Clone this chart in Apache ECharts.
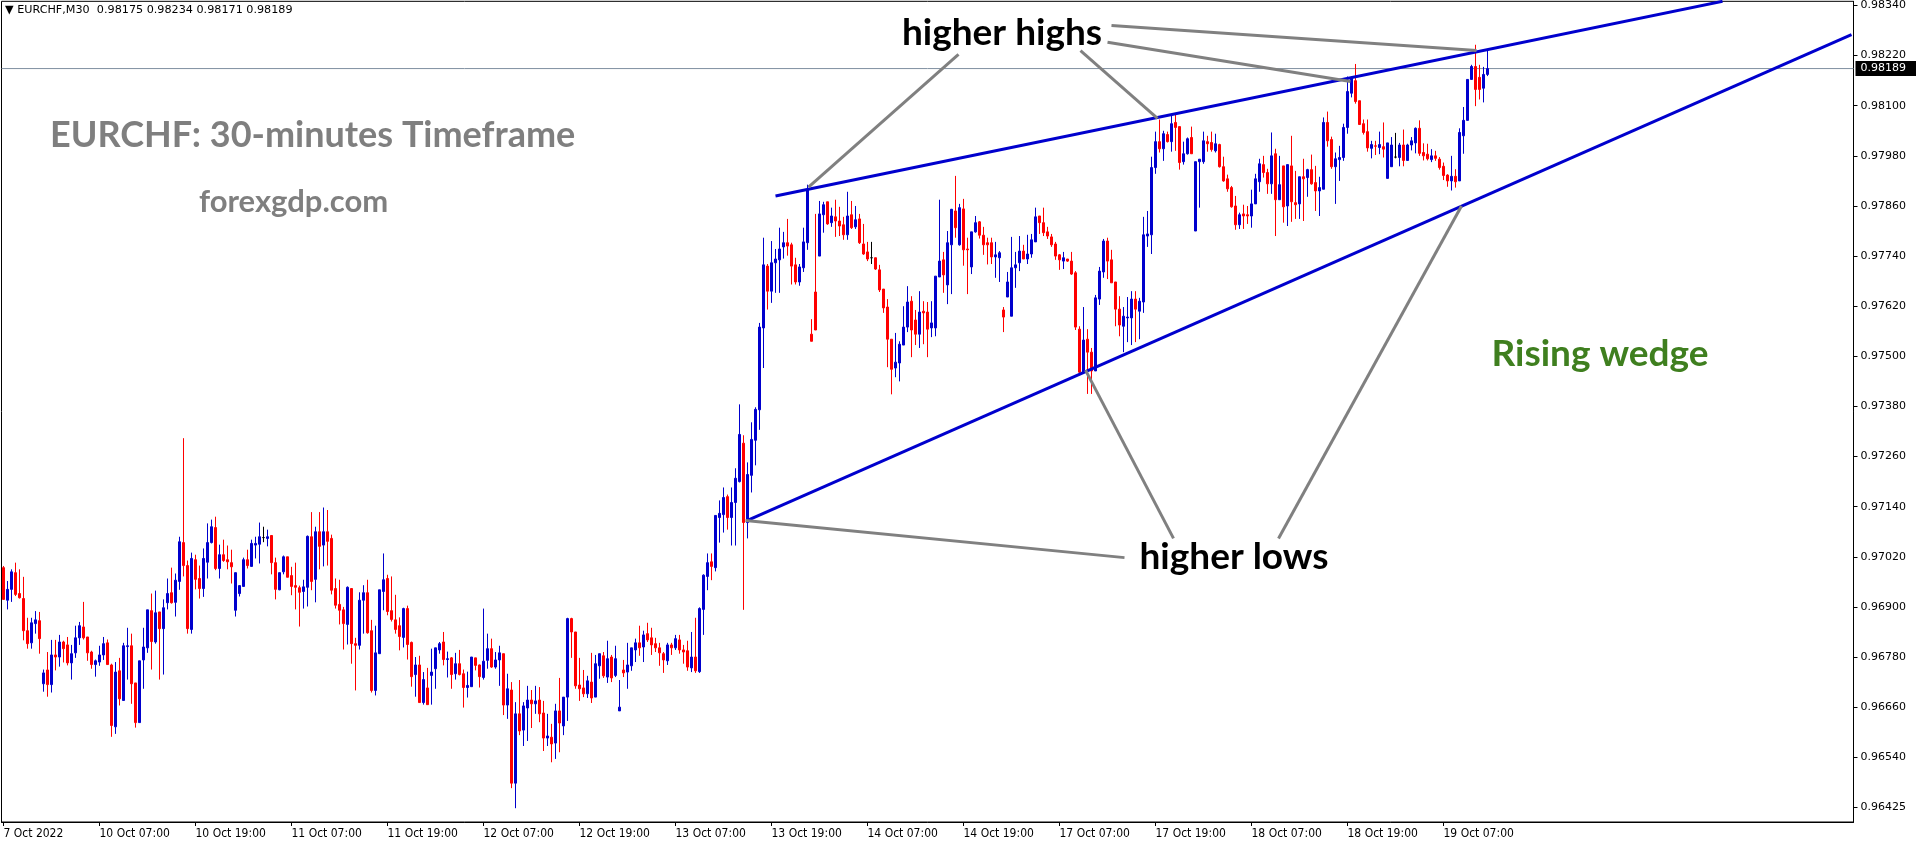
<!DOCTYPE html>
<html><head><meta charset="utf-8">
<script src="https://cdn.jsdelivr.net/npm/echarts@6/dist/echarts.min.js"></script>
<style>html,body{margin:0;padding:0;background:#fff;overflow:hidden}#c{width:1916px;height:850px}</style>
</head><body><div id="c"></div>
<script>
// ---- Data (EURCHF M30, 7 Oct 2022 19:00 -> 19 Oct 2022 12:30) ----
const opens = [
0.96994,0.96916,0.96942,0.96982,0.96932,0.96920,0.96843,0.96814,0.96860,0.96867,
0.96716,0.96749,0.96714,0.96785,0.96780,0.96816,0.96809,0.96766,0.96790,0.96826,
0.96852,0.96828,0.96792,0.96762,0.96768,0.96785,0.96814,0.96761,0.96613,0.96747,
0.96676,0.96805,0.96807,0.96718,0.96623,0.96773,0.96802,0.96891,0.96816,0.96888,
0.96848,0.96910,0.96934,0.96911,0.96961,0.97054,0.96999,0.96846,0.97013,0.96968,
0.96944,0.97007,0.97054,0.97090,0.96992,0.97025,0.97013,0.97006,0.96892,0.96932,
0.96949,0.97013,0.96997,0.97048,0.97050,0.97066,0.97064,0.97071,0.97006,0.96941,
0.96984,0.97020,0.96975,0.96951,0.96946,0.96937,0.96947,0.97068,0.96966,0.97080,
0.97048,0.97080,0.97064,0.96944,0.96906,0.96893,0.96858,0.96944,0.96812,0.96808,
0.96916,0.96934,0.96843,0.96700,0.96788,0.96937,0.96968,0.96891,0.96869,0.96855,
0.96827,0.96896,0.96815,0.96738,0.96761,0.96671,0.96706,0.96736,0.96752,0.96797,
0.96816,0.96774,0.96778,0.96740,0.96764,0.96740,0.96707,0.96709,0.96778,0.96761,
0.96731,0.96772,0.96800,0.96756,0.96773,0.96788,0.96665,0.96701,0.96478,0.96644,
0.96605,0.96658,0.96677,0.96668,0.96677,0.96646,0.96586,0.96588,0.96574,0.96651,
0.96615,0.96684,0.96872,0.96840,0.96713,0.96706,0.96692,0.96720,0.96684,0.96759,
0.96783,0.96732,0.96780,0.96736,0.96651,0.96749,0.96744,0.96759,0.96797,0.96814,
0.96804,0.96836,0.96826,0.96812,0.96802,0.96788,0.96771,0.96809,0.96802,0.96821,
0.96797,0.96795,0.96754,0.96780,0.96745,0.96894,0.96973,0.97008,0.96994,0.97114,
0.97121,0.97164,0.97114,0.97150,0.97200,0.97292,0.97102,0.97215,0.97299,0.97372,
0.97568,0.97716,0.97656,0.97724,0.97731,0.97762,0.97772,0.97767,0.97719,0.97678,
0.97712,0.97772,0.97553,0.97654,0.97740,0.97839,0.97870,0.97820,0.97834,0.97824,
0.97815,0.97791,0.97839,0.97810,0.97829,0.97769,0.97750,0.97736,0.97736,0.97707,
0.97661,0.97618,0.97541,0.97472,0.97484,0.97527,0.97570,0.97632,0.97587,0.97553,
0.97608,0.97606,0.97568,0.97568,0.97690,0.97731,0.97671,0.97767,0.97848,0.97767,
0.97853,0.97757,0.97714,0.97798,0.97822,0.97790,0.97772,0.97772,0.97738,0.97736,
0.97611,0.97642,0.97596,0.97712,0.97724,0.97752,0.97733,0.97745,0.97774,0.97836,
0.97820,0.97798,0.97786,0.97769,0.97743,0.97728,0.97733,0.97728,0.97700,0.97565,
0.97462,0.97541,0.97510,0.97465,0.97637,0.97702,0.97776,0.97731,0.97678,0.97613,
0.97572,0.97592,0.97592,0.97637,0.97608,0.97630,0.97788,0.97791,0.97952,0.98014,
0.97997,0.98031,0.98014,0.98060,0.98050,0.97966,0.97985,0.98024,0.97800,0.97966,
0.97966,0.98014,0.98012,0.97992,0.98007,0.97954,0.97925,0.97904,0.97860,0.97815,
0.97841,0.97839,0.97836,0.97865,0.97918,0.97959,0.97940,0.97913,0.97985,0.97875,
0.97956,0.97860,0.97956,0.97868,0.97865,0.97930,0.97928,0.97947,0.97916,0.97896,
0.97900,0.98060,0.98019,0.97954,0.97971,0.97976,0.98048,0.98130,0.98160,0.98112,
0.98057,0.98038,0.97998,0.98004,0.98000,0.98002,0.97926,0.97954,0.97977,0.97976,
0.98006,0.97969,0.98006,0.98011,0.98046,0.97988,0.97984,0.97971,0.97980,0.97972,
0.97955,0.97934,0.97920,0.97931,0.97920,0.98028,0.98065,0.98163,0.98194,0.98168,
0.98142,0.98175];
const closes = [
0.96918,0.96942,0.96984,0.96930,0.96922,0.96843,0.96812,0.96862,0.96869,0.96824,
0.96742,0.96714,0.96785,0.96780,0.96816,0.96800,0.96766,0.96788,0.96826,0.96855,
0.96826,0.96790,0.96762,0.96771,0.96785,0.96812,0.96762,0.96616,0.96744,0.96680,
0.96807,0.96807,0.96716,0.96623,0.96771,0.96804,0.96893,0.96817,0.96886,0.96848,
0.96898,0.96932,0.96910,0.96964,0.97056,0.96999,0.96848,0.97016,0.96966,0.96944,
0.97016,0.97054,0.97092,0.96992,0.97025,0.97011,0.97008,0.96996,0.96982,0.96951,
0.97013,0.96999,0.97052,0.97052,0.97068,0.97066,0.97068,0.97006,0.96942,0.96982,
0.97020,0.96971,0.96949,0.96947,0.96935,0.96948,0.97069,0.96961,0.97080,0.97045,
0.97080,0.97057,0.96940,0.96904,0.96892,0.96860,0.96947,0.96812,0.96808,0.96916,
0.96934,0.96838,0.96700,0.96790,0.96941,0.96965,0.96889,0.96870,0.96846,0.96829,
0.96896,0.96810,0.96733,0.96761,0.96671,0.96726,0.96666,0.96744,0.96802,0.96812,
0.96774,0.96776,0.96738,0.96764,0.96738,0.96707,0.96712,0.96780,0.96760,0.96733,
0.96770,0.96800,0.96756,0.96773,0.96790,0.96665,0.96704,0.96478,0.96644,0.96603,
0.96663,0.96677,0.96668,0.96675,0.96644,0.96586,0.96591,0.96572,0.96651,0.96622,
0.96684,0.96872,0.96840,0.96711,0.96704,0.96692,0.96723,0.96682,0.96764,0.96788,
0.96735,0.96776,0.96730,0.96776,0.96660,0.96742,0.96761,0.96802,0.96814,0.96802,
0.96833,0.96821,0.96809,0.96802,0.96790,0.96773,0.96809,0.96802,0.96824,0.96797,
0.96792,0.96756,0.96780,0.96747,0.96896,0.96976,0.97006,0.96997,0.97119,0.97124,
0.97162,0.97114,0.97150,0.97208,0.97313,0.97102,0.97217,0.97301,0.97373,0.97570,
0.97719,0.97656,0.97724,0.97733,0.97757,0.97772,0.97764,0.97716,0.97678,0.97714,
0.97774,0.97899,0.97536,0.97563,0.97841,0.97863,0.97817,0.97836,0.97824,0.97812,
0.97791,0.97836,0.97808,0.97827,0.97772,0.97745,0.97733,0.97736,0.97709,0.97659,
0.97616,0.97541,0.97469,0.97486,0.97529,0.97570,0.97630,0.97563,0.97553,0.97606,
0.97604,0.97565,0.97580,0.97692,0.97728,0.97695,0.97772,0.97852,0.97808,0.97856,
0.97755,0.97755,0.97798,0.97820,0.97790,0.97767,0.97767,0.97738,0.97743,0.97748,
0.97594,0.97678,0.97712,0.97719,0.97752,0.97733,0.97745,0.97779,0.97834,0.97820,
0.97796,0.97788,0.97767,0.97740,0.97731,0.97736,0.97728,0.97697,0.97570,0.97462,
0.97539,0.97510,0.97465,0.97640,0.97704,0.97776,0.97728,0.97676,0.97613,0.97575,
0.97596,0.97594,0.97637,0.97613,0.97632,0.97791,0.97793,0.97952,0.98014,0.97997,
0.98033,0.98014,0.98057,0.98048,0.97964,0.97985,0.98021,0.97985,0.97966,0.97972,
0.98016,0.98009,0.97995,0.98009,0.97954,0.97920,0.97901,0.97858,0.97815,0.97839,
0.97836,0.97836,0.97865,0.97925,0.97961,0.97940,0.97913,0.97980,0.97875,0.97911,
0.97858,0.97959,0.97870,0.97863,0.97930,0.97925,0.97947,0.97913,0.97896,0.97904,
0.98060,0.98016,0.97954,0.97973,0.97976,0.98048,0.98134,0.98166,0.98110,0.98055,
0.98036,0.97999,0.98007,0.98003,0.98007,0.97996,0.98011,0.98006,0.97977,0.98006,
0.97969,0.98006,0.98016,0.98046,0.97986,0.97980,0.97973,0.97980,0.97974,0.97952,
0.97933,0.97920,0.97931,0.97918,0.98036,0.98065,0.98163,0.98194,0.98139,0.98139,
0.98175,0.98189];
const lows = [
0.96918,0.96894,0.96912,0.96926,0.96920,0.96820,0.96800,0.96800,0.96836,0.96788,
0.96697,0.96685,0.96695,0.96748,0.96757,0.96767,0.96760,0.96726,0.96778,0.96809,
0.96822,0.96771,0.96752,0.96733,0.96759,0.96773,0.96762,0.96589,0.96596,0.96664,
0.96676,0.96726,0.96668,0.96611,0.96623,0.96704,0.96790,0.96750,0.96812,0.96726,
0.96738,0.96894,0.96908,0.96877,0.96941,0.96973,0.96836,0.96836,0.96942,0.96920,
0.96924,0.96968,0.97052,0.96988,0.96968,0.97008,0.96990,0.96956,0.96877,0.96925,
0.96949,0.96992,0.96997,0.97016,0.97004,0.97055,0.97045,0.96978,0.96918,0.96940,
0.96978,0.96971,0.96928,0.96894,0.96853,0.96896,0.96901,0.96940,0.96911,0.96990,
0.96997,0.96999,0.96930,0.96896,0.96858,0.96798,0.96810,0.96764,0.96700,0.96798,
0.96836,0.96836,0.96695,0.96688,0.96788,0.96892,0.96880,0.96865,0.96836,0.96796,
0.96803,0.96774,0.96709,0.96685,0.96671,0.96666,0.96666,0.96666,0.96704,0.96788,
0.96760,0.96731,0.96704,0.96726,0.96736,0.96659,0.96683,0.96709,0.96748,0.96707,
0.96726,0.96752,0.96754,0.96752,0.96711,0.96641,0.96632,0.96466,0.96418,0.96593,
0.96567,0.96579,0.96610,0.96644,0.96624,0.96555,0.96567,0.96528,0.96536,0.96552,
0.96593,0.96627,0.96778,0.96704,0.96675,0.96684,0.96682,0.96670,0.96684,0.96728,
0.96730,0.96718,0.96720,0.96732,0.96651,0.96732,0.96704,0.96747,0.96768,0.96783,
0.96768,0.96816,0.96785,0.96792,0.96759,0.96742,0.96761,0.96785,0.96797,0.96788,
0.96764,0.96747,0.96744,0.96742,0.96742,0.96833,0.96940,0.96964,0.96985,0.97054,
0.97078,0.97085,0.97047,0.97047,0.97198,0.96893,0.97064,0.97174,0.97239,0.97324,
0.97472,0.97612,0.97628,0.97652,0.97652,0.97734,0.97741,0.97672,0.97672,0.97669,
0.97702,0.97755,0.97536,0.97563,0.97740,0.97796,0.97815,0.97810,0.97786,0.97788,
0.97779,0.97779,0.97805,0.97805,0.97769,0.97743,0.97728,0.97721,0.97707,0.97654,
0.97604,0.97474,0.97409,0.97450,0.97440,0.97527,0.97558,0.97498,0.97527,0.97520,
0.97529,0.97498,0.97546,0.97548,0.97690,0.97652,0.97625,0.97649,0.97784,0.97765,
0.97717,0.97649,0.97697,0.97796,0.97782,0.97743,0.97720,0.97721,0.97688,0.97678,
0.97558,0.97642,0.97596,0.97664,0.97704,0.97733,0.97721,0.97736,0.97774,0.97793,
0.97788,0.97781,0.97762,0.97731,0.97707,0.97709,0.97726,0.97695,0.97563,0.97457,
0.97462,0.97410,0.97410,0.97465,0.97623,0.97688,0.97685,0.97676,0.97572,0.97548,
0.97510,0.97534,0.97527,0.97534,0.97541,0.97604,0.97762,0.97745,0.97937,0.97988,
0.97968,0.98012,0.97990,0.97992,0.97947,0.97959,0.97983,0.97985,0.97800,0.97856,
0.97961,0.97990,0.97990,0.97988,0.97952,0.97918,0.97894,0.97856,0.97803,0.97805,
0.97805,0.97817,0.97808,0.97865,0.97894,0.97928,0.97889,0.97889,0.97788,0.97875,
0.97820,0.97812,0.97822,0.97829,0.97829,0.97824,0.97882,0.97911,0.97848,0.97836,
0.97900,0.98002,0.97949,0.97865,0.97920,0.97968,0.98033,0.98120,0.98105,0.98055,
0.98031,0.97990,0.97974,0.97982,0.97984,0.97976,0.97926,0.97954,0.97974,0.97955,
0.97955,0.97969,0.97993,0.97986,0.97980,0.97969,0.97969,0.97965,0.97968,0.97947,
0.97922,0.97906,0.97897,0.97904,0.97920,0.97985,0.98065,0.98163,0.98099,0.98115,
0.98108,0.98171];
const highs = [
0.96998,0.96962,0.96990,0.97006,0.96990,0.96972,0.96874,0.96874,0.96890,0.96888,
0.96750,0.96792,0.96821,0.96821,0.96833,0.96819,0.96828,0.96809,0.96855,0.96864,
0.96912,0.96828,0.96795,0.96774,0.96807,0.96828,0.96822,0.96764,0.96768,0.96778,
0.96814,0.96850,0.96836,0.96718,0.96771,0.96850,0.96893,0.96932,0.96939,0.96888,
0.96918,0.96968,0.96994,0.96980,0.97068,0.97304,0.97011,0.97030,0.97025,0.96999,
0.97040,0.97100,0.97109,0.97116,0.97049,0.97061,0.97047,0.97037,0.96982,0.96951,
0.97018,0.97037,0.97061,0.97068,0.97102,0.97092,0.97085,0.97071,0.97018,0.96982,
0.97023,0.97020,0.96996,0.97006,0.96951,0.96965,0.97071,0.97127,0.97092,0.97127,
0.97138,0.97132,0.97073,0.96968,0.96965,0.96900,0.96949,0.96944,0.96826,0.96935,
0.96952,0.96965,0.96869,0.96855,0.96941,0.97028,0.96977,0.96973,0.96929,0.96875,
0.96898,0.96903,0.96817,0.96780,0.96783,0.96744,0.96754,0.96800,0.96802,0.96816,
0.96840,0.96793,0.96780,0.96790,0.96797,0.96750,0.96745,0.96780,0.96778,0.96762,
0.96896,0.96836,0.96824,0.96792,0.96807,0.96788,0.96740,0.96720,0.96672,0.96725,
0.96672,0.96711,0.96701,0.96711,0.96708,0.96675,0.96644,0.96620,0.96668,0.96730,
0.96684,0.96874,0.96874,0.96840,0.96778,0.96749,0.96735,0.96790,0.96785,0.96788,
0.96792,0.96819,0.96785,0.96807,0.96725,0.96773,0.96814,0.96802,0.96824,0.96855,
0.96843,0.96862,0.96850,0.96826,0.96814,0.96792,0.96814,0.96814,0.96833,0.96833,
0.96809,0.96819,0.96840,0.96874,0.96899,0.96978,0.97028,0.97028,0.97119,0.97155,
0.97186,0.97169,0.97186,0.97232,0.97385,0.97311,0.97246,0.97342,0.97378,0.97580,
0.97784,0.97721,0.97776,0.97757,0.97808,0.97798,0.97829,0.97772,0.97736,0.97721,
0.97808,0.97911,0.97589,0.97841,0.97872,0.97870,0.97870,0.97856,0.97875,0.97858,
0.97834,0.97894,0.97872,0.97860,0.97841,0.97817,0.97774,0.97774,0.97736,0.97719,
0.97661,0.97637,0.97541,0.97556,0.97536,0.97620,0.97668,0.97644,0.97611,0.97656,
0.97632,0.97630,0.97632,0.97692,0.97875,0.97750,0.97800,0.97853,0.97932,0.97865,
0.97877,0.97784,0.97798,0.97836,0.97824,0.97810,0.97784,0.97784,0.97774,0.97752,
0.97618,0.97702,0.97786,0.97750,0.97788,0.97767,0.97791,0.97793,0.97856,0.97836,
0.97856,0.97810,0.97793,0.97774,0.97745,0.97750,0.97733,0.97750,0.97704,0.97572,
0.97618,0.97565,0.97520,0.97647,0.97714,0.97781,0.97784,0.97755,0.97678,0.97644,
0.97618,0.97642,0.97656,0.97656,0.97640,0.97834,0.97848,0.97978,0.98038,0.98067,
0.98040,0.98038,0.98079,0.98081,0.98050,0.98014,0.98024,0.98050,0.97966,0.97972,
0.98038,0.98028,0.98038,0.98033,0.98009,0.97978,0.97935,0.97908,0.97884,0.97844,
0.97863,0.97860,0.97899,0.97937,0.97973,0.97980,0.97949,0.98036,0.97997,0.97980,
0.97956,0.97959,0.98028,0.97944,0.97930,0.97973,0.97949,0.97983,0.97956,0.97930,
0.98072,0.98086,0.98026,0.97988,0.98004,0.98057,0.98170,0.98170,0.98200,0.98112,
0.98067,0.98067,0.98016,0.98016,0.98038,0.98060,0.98011,0.98025,0.98035,0.98011,
0.98043,0.98009,0.98025,0.98048,0.98065,0.98010,0.98009,0.97996,0.97992,0.97977,
0.97964,0.97936,0.97980,0.97948,0.98046,0.98097,0.98163,0.98198,0.98246,0.98198,
0.98193,0.98234];

const xTickLabels = ['7 Oct 2022','10 Oct 07:00','10 Oct 19:00','11 Oct 07:00','11 Oct 19:00',
  '12 Oct 07:00','12 Oct 19:00','13 Oct 07:00','13 Oct 19:00','14 Oct 07:00','14 Oct 19:00',
  '17 Oct 07:00','17 Oct 19:00','18 Oct 07:00','18 Oct 19:00','19 Oct 07:00'];
const yTickLabels = ['0.98340','0.98220','0.98100','0.97980','0.97860','0.97740','0.97620',
  '0.97500','0.97380','0.97260','0.97140','0.97020','0.96900','0.96780','0.96660','0.96540','0.96425'];
const lastPrice = 0.98189;
const headerText = '\u25BC EURCHF,M30  0.98175 0.98234 0.98171 0.98189';

// trend lines: [bar index, price]
const upperWedge = [[193, 0.97884], [429.75, 0.98350]];
const lowerWedge = [[186, 0.97107], [462, 0.98270]];
const highPointers = [
  [[238.75, 0.98223], [201.25, 0.97905]],
  [[269.25, 0.98232], [288.5, 0.98070]],
  [[276, 0.98252], [336.75, 0.98158]],
  [[277, 0.98292], [368.25, 0.98232]]
];
const lowPointers = [
  [[280.25, 0.97018], [185.5, 0.97107]],
  [[292.5, 0.97064], [270.5, 0.97467]],
  [[318.75, 0.97064], [364.5, 0.97860]]
];

// ---- build ----
const SLOTS = 463, TICK_EVERY = 24;
const MONTHS = ['Jan','Feb','Mar','Apr','May','Jun','Jul','Aug','Sep','Oct','Nov','Dec'];
const pad = n => (n < 10 ? '0' : '') + n;
const categories = [];
for (let t = Date.UTC(2022, 9, 7, 19, 0); categories.length < SLOTS; t += 1800000) {
  const d = new Date(t), wd = d.getUTCDay();
  if (wd === 0 || wd === 6) continue;
  categories.push(d.getUTCDate() + ' ' + MONTHS[d.getUTCMonth()] + ' ' + pad(d.getUTCHours()) + ':' + pad(d.getUTCMinutes()));
}
const ohlc = opens.map((o, i) => [o, closes[i], lows[i], highs[i]]);
const yStep = 0.0012, yTop = 0.98340;
const yTickValues = yTickLabels.map((s, k) => +(yTop - k * yStep).toFixed(5));
const isTick = i => i % TICK_EVERY === 0 && i / TICK_EVERY < xTickLabels.length;

const BLUE = '#0000cd', RED = '#ff0000', GREY = '#808080';
const seg = (data, color, width) => ({
  type: 'line', xAxisIndex: 1, yAxisIndex: 0, data, symbol: 'none', showSymbol: false,
  silent: true, animation: false, z: 5, clip: true,
  lineStyle: { color, width, cap: 'butt' }
});

const chart = echarts.init(document.getElementById('c'), null, { renderer: 'canvas' });
const textStyle = (text, x, y, size, color, align) => ({
  type: 'text', x, y, z: 10, silent: true,
  style: { text, fill: color, font: 'bold ' + size + 'px Lato, "Open Sans", sans-serif',
    textAlign: align || 'left', textVerticalAlign: 'middle', align: align || 'left', verticalAlign: 'middle' }
});
chart.setOption({
  animation: false,
  backgroundColor: '#ffffff',
  grid: { left: 1.5, top: 0, width: 1852, height: 822, show: true, borderColor: '#000', borderWidth: 1, backgroundColor: 'transparent' },
  xAxis: [{
    type: 'category', data: categories, boundaryGap: true,
    axisLine: { show: true, lineStyle: { color: '#000', width: 1 } },
    axisTick: { show: true, alignWithLabel: true, interval: isTick, length: 4, lineStyle: { color: '#000' } },
    axisLabel: { show: true, interval: isTick, align: 'left', margin: 6, color: '#000',
      fontFamily: '"DejaVu Sans Condensed", "DejaVu Sans", sans-serif', fontSize: 12,
      formatter: (v, i) => xTickLabels[i / TICK_EVERY] || '' },
    splitLine: { show: false }
  }, {
    type: 'value', min: -0.5, max: SLOTS - 0.5, show: false
  }],
  yAxis: [{
    type: 'value', position: 'right', min: 0.96385, max: 0.98350, scale: true,
    axisLine: { show: true, onZero: false, lineStyle: { color: '#000', width: 1 } },
    axisTick: { show: true, length: 4, customValues: yTickValues, lineStyle: { color: '#000' } },
    axisLabel: { show: true, customValues: yTickValues, align: 'left', margin: 7, color: '#000',
      fontFamily: '"DejaVu Sans", sans-serif', fontSize: 11,
      formatter: v => { const k = Math.round((yTop - v) / yStep); return yTickLabels[k] || ''; } },
    splitLine: { show: false }
  }],
  series: [
    {
      type: 'candlestick', data: ohlc, xAxisIndex: 0, yAxisIndex: 0, barWidth: 2, z: 2,
      itemStyle: { color: BLUE, color0: RED, borderColor: BLUE, borderColor0: RED, borderColorDoji: '#000', borderWidth: 1 }
    },
    {
      type: 'line', xAxisIndex: 1, yAxisIndex: 0, symbol: 'none', silent: true, z: 1, clip: false,
      data: [[-0.5, lastPrice], [SLOTS - 0.5, lastPrice]],
      lineStyle: { color: '#7f8fa0', width: 1 },
      endLabel: { show: true, distance: 2, formatter: lastPrice.toFixed(5),
        backgroundColor: '#000', color: '#fff', padding: [2, 14, 2, 5],
        fontFamily: '"DejaVu Sans", sans-serif', fontSize: 11 }
    },
    seg(upperWedge, BLUE, 3),
    seg(lowerWedge, BLUE, 3),
    ...highPointers.map(p => seg(p, GREY, 3)),
    ...lowPointers.map(p => seg(p, GREY, 3))
  ],
  graphic: [
    { type: 'text', x: 5, y: 5, z: 10, silent: true,
      style: { text: headerText, fill: '#000', font: '11.2px "DejaVu Sans", sans-serif' } },
    textStyle('EURCHF: 30-minutes Timeframe', 50, 135, 36, '#7f7f7f'),
    textStyle('forexgdp.com', 199, 202, 31, '#7f7f7f'),
    textStyle('higher highs', 1002, 33, 37, '#000', 'center'),
    textStyle('higher lows', 1234, 557, 37, '#000', 'center'),
    textStyle('Rising wedge', 1600, 354, 37, '#3f7f1f', 'center')
  ]
});
</script></body></html>
